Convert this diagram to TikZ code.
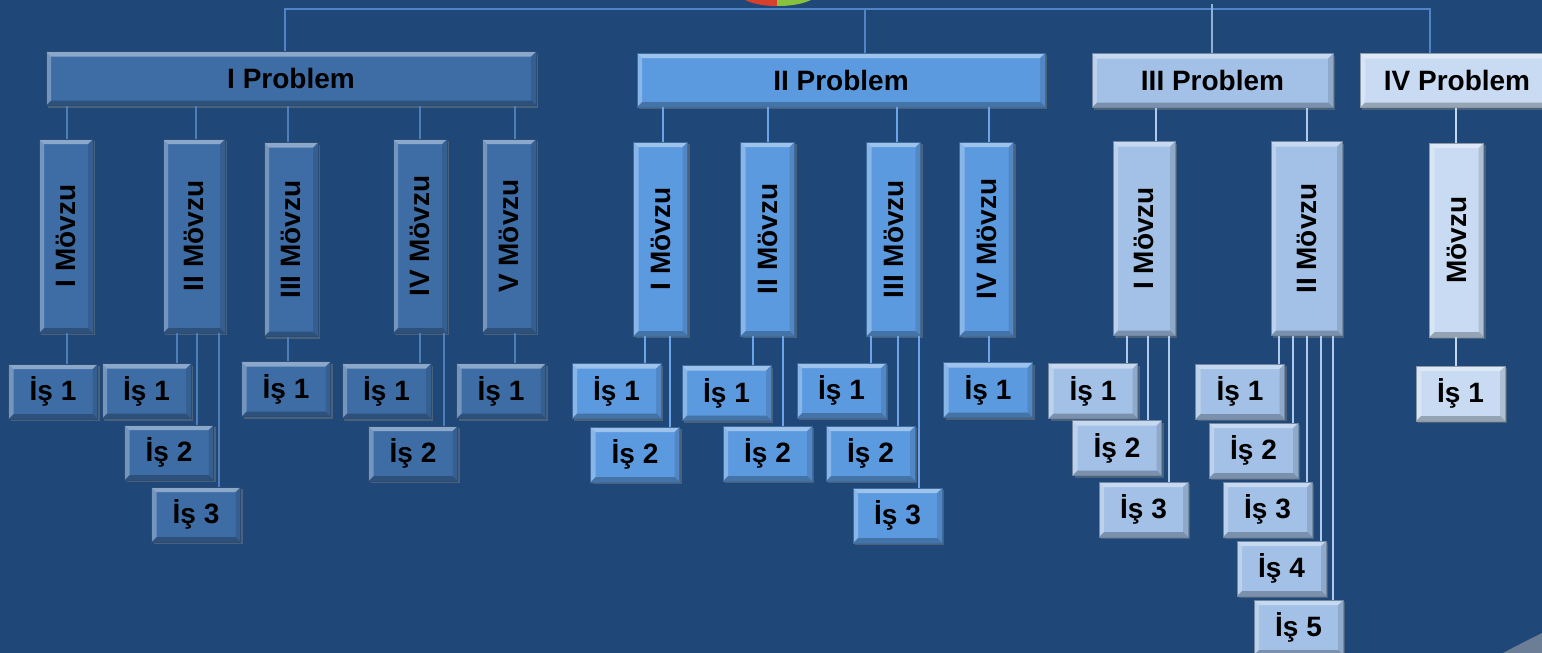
\documentclass[tikz,border=0pt]{standalone}
\usepackage{fontspec}
\setmainfont{Liberation Sans}
\usepackage{graphicx}
\usetikzlibrary{shadows}

\definecolor{slide}{HTML}{1F4878}
\definecolor{grpA}{HTML}{3E6DA6}
\definecolor{grpB}{HTML}{5C9AE0}
\definecolor{grpC}{HTML}{A3C1E6}
\definecolor{grpD}{HTML}{C8DBF2}
\definecolor{lineA}{HTML}{4E7EBA}
\definecolor{lineB}{HTML}{6BA4E8}
\definecolor{lineC}{HTML}{AFCAEC}
\definecolor{lineD}{HTML}{C2D6F0}
\definecolor{busline}{HTML}{4F84C6}
\definecolor{wedgeR}{HTML}{D8402E}
\definecolor{wedgeG}{HTML}{86C23E}
\definecolor{swoosh}{HTML}{6C7D96}

\tikzset{
  bevel/.style={path picture={
    \path (path picture bounding box.north west) coordinate (bnw)
          (path picture bounding box.north east) coordinate (bne)
          (path picture bounding box.south west) coordinate (bsw)
          (path picture bounding box.south east) coordinate (bse)
          (bnw) ++(2.5pt,-2.5pt) coordinate (inw)
          (bne) ++(-2.5pt,-2.5pt) coordinate (ine)
          (bsw) ++(2.5pt,2.5pt) coordinate (isw)
          (bse) ++(-2.5pt,2.5pt) coordinate (ise);
    \fill[white,opacity=.4] (bnw) -- (bne) -- (ine) -- (inw) -- cycle;
    \fill[white,opacity=.28] (bnw) -- (inw) -- (isw) -- (bsw) -- cycle;
    \fill[black,opacity=.25] (bsw) -- (isw) -- (ise) -- (bse) -- cycle;
    \fill[black,opacity=.12] (bne) -- (bse) -- (ise) -- (ine) -- cycle;
  }}
}

\begin{document}
\begin{tikzpicture}[x=0.5pt, y=-0.5pt,
  box/.style={draw=#1!70!black, line width=0.4pt, fill=#1, bevel, inner sep=0pt,
    text=black, font=\fontsize{14}{16}\selectfont\bfseries,
    drop shadow={shadow xshift=1pt, shadow yshift=-1.2pt, opacity=.45}},
  prob/.style={box=#1, minimum height=27pt},
  topic/.style={box=#1, minimum width=27pt, minimum height=97pt},
  task/.style={box=#1, minimum width=44.5pt, minimum height=27.5pt},
  link/.style={draw=#1, line width=1.3pt}]
\fill[slide] (0,0) rectangle (1542,653);
\useasboundingbox (0,0) rectangle (1542,653);

% what shows of the top of the chart and the slide's corner
\fill[wedgeR] (745,0) .. controls (755,5) and (768,6) .. (777,6) -- (777,0) -- cycle;
\fill[wedgeG] (777,0) -- (777,6) .. controls (788,6) and (800,5) .. (811,0) -- cycle;
\fill[swoosh] (1503,653) .. controls (1518,645) and (1530,639) .. (1542,633) -- (1542,653) -- cycle;

% problems
\node[prob=grpA, minimum width=245pt] (p1) at (291,78.5) {I Problem};
\node[prob=grpB, minimum width=204pt] (p2) at (841,80) {II Problem};
\node[prob=grpC, minimum width=120.5pt] (p3) at (1212.5,80.5) {III Problem};
\node[prob=grpD, minimum width=97pt] (p4) at (1457,80.5) {IV Problem};

\coordinate (b1) at (285,9);
\coordinate (b2) at (865,9);
\coordinate (b3) at (1212,4);
\coordinate (b4) at (1430,9);
\draw[link=busline] (b1 |- p1.north) -- (b1) -- (b4) -- (b4 |- p4.north);
\draw[link=busline] (b2) -- (b2 |- p2.north);
\draw[link=lineC!80!slide] (b3) -- (b3 |- p3.north);

% topics
\node[topic=grpA] (m11) at (66,236) {\rotatebox{90}{I Mövzu}};
\node[topic=grpA, minimum width=31pt] (m12) at (194,236) {\rotatebox{90}{II Mövzu}};
\node[topic=grpA] (m13) at (291,239.5) {\rotatebox{90}{III Mövzu}};
\node[topic=grpA] (m14) at (420,236) {\rotatebox{90}{IV Mövzu}};
\node[topic=grpA] (m15) at (509,236) {\rotatebox{90}{V Mövzu}};

\node[topic=grpB] (m21) at (660.5,239) {\rotatebox{90}{I Mövzu}};
\node[topic=grpB] (m22) at (767.5,239) {\rotatebox{90}{II Mövzu}};
\node[topic=grpB] (m23) at (893.5,239) {\rotatebox{90}{III Mövzu}};
\node[topic=grpB] (m24) at (986.5,239) {\rotatebox{90}{IV Mövzu}};

\node[topic=grpC, minimum width=31pt] (m31) at (1144,238.5) {\rotatebox{90}{I Mövzu}};
\node[topic=grpC, minimum width=35.5pt] (m32) at (1306.5,238.5) {\rotatebox{90}{II Mövzu}};

\node[topic=grpD] (m41) at (1456.5,240) {\rotatebox{90}{Mövzu}};

\draw[link=lineA] (p1.south -| 67,0) -- (m11.north -| 67,0);
\draw[link=lineA] (p1.south -| 196,0) -- (m12.north -| 196,0);
\draw[link=lineA] (p1.south -| 288,0) -- (m13.north -| 288,0);
\draw[link=lineA] (p1.south -| 420,0) -- (m14.north -| 420,0);
\draw[link=lineA] (p1.south -| 515,0) -- (m15.north -| 515,0);
\draw[link=lineB] (p2.south -| 663,0) -- (m21.north -| 663,0);
\draw[link=lineB] (p2.south -| 768,0) -- (m22.north -| 768,0);
\draw[link=lineB] (p2.south -| 897,0) -- (m23.north -| 897,0);
\draw[link=lineB] (p2.south -| 989,0) -- (m24.north -| 989,0);
\draw[link=lineC] (p3.south -| 1156,0) -- (m31.north -| 1156,0);
\draw[link=lineC] (p3.south -| 1307,0) -- (m32.north -| 1307,0);
\draw[link=lineD] (p4.south -| 1456,0) -- (m41.north -| 1456,0);

% tasks
\node[task=grpA] (i111) at (53,391.5) {İş 1};
\node[task=grpA] (i121) at (146.5,391) {İş 1};
\node[task=grpA] (i122) at (169,452.5) {İş 2};
\node[task=grpA] (i123) at (196,514.5) {İş 3};
\node[task=grpA] (i131) at (286,389) {İş 1};
\node[task=grpA] (i141) at (386.5,391) {İş 1};
\node[task=grpA] (i142) at (413,453.5) {İş 2};
\node[task=grpA] (i151) at (501,391) {İş 1};

\node[task=grpB] (i211) at (616.5,391) {İş 1};
\node[task=grpB] (i212) at (635,454.5) {İş 2};
\node[task=grpB] (i221) at (726.5,393) {İş 1};
\node[task=grpB] (i222) at (767.5,453.5) {İş 2};
\node[task=grpB] (i231) at (841.5,390.5) {İş 1};
\node[task=grpB] (i232) at (870.5,453.5) {İş 2};
\node[task=grpB] (i233) at (897.5,515.5) {İş 3};
\node[task=grpB] (i241) at (988,390) {İş 1};

\node[task=grpC] (i311) at (1093,391) {İş 1};
\node[task=grpC] (i312) at (1117,448) {İş 2};
\node[task=grpC] (i313) at (1143.5,509.5) {İş 3};
\node[task=grpC] (i321) at (1240,391.5) {İş 1};
\node[task=grpC] (i322) at (1253.5,450.5) {İş 2};
\node[task=grpC] (i323) at (1267.5,509.5) {İş 3};
\node[task=grpC] (i324) at (1281.5,568.5) {İş 4};
\node[task=grpC] (i325) at (1298.5,627.5) {İş 5};

\node[task=grpD] (i411) at (1460.5,393.5) {İş 1};

\draw[link=lineA] (m11.south -| 67,0) -- (i111.north -| 67,0);
\draw[link=lineA] (m12.south -| 177,0) -- (i121.north -| 177,0);
\draw[link=lineA] (m12.south -| 197,0) -- (i122.north -| 197,0);
\draw[link=lineA] (m12.south -| 219,0) -- (i123.north -| 219,0);
\draw[link=lineA] (m13.south -| 288,0) -- (i131.north -| 288,0);
\draw[link=lineA] (m14.south -| 420,0) -- (i141.north -| 420,0);
\draw[link=lineA] (m14.south -| 444,0) -- (i142.north -| 444,0);
\draw[link=lineA] (m15.south -| 515,0) -- (i151.north -| 515,0);

\draw[link=lineB] (m21.south -| 645,0) -- (i211.north -| 645,0);
\draw[link=lineB] (m21.south -| 670,0) -- (i212.north -| 670,0);
\draw[link=lineB] (m22.south -| 753,0) -- (i221.north -| 753,0);
\draw[link=lineB] (m22.south -| 783,0) -- (i222.north -| 783,0);
\draw[link=lineB] (m23.south -| 871,0) -- (i231.north -| 871,0);
\draw[link=lineB] (m23.south -| 898,0) -- (i232.north -| 898,0);
\draw[link=lineB] (m23.south -| 919,0) -- (i233.north -| 919,0);
\draw[link=lineB] (m24.south -| 989,0) -- (i241.north -| 989,0);

\draw[link=lineC] (m31.south -| 1127,0) -- (i311.north -| 1127,0);
\draw[link=lineC] (m31.south -| 1148,0) -- (i312.north -| 1148,0);
\draw[link=lineC] (m31.south -| 1169,0) -- (i313.north -| 1169,0);
\draw[link=lineC] (m32.south -| 1279,0) -- (i321.north -| 1279,0);
\draw[link=lineC] (m32.south -| 1293,0) -- (i322.north -| 1293,0);
\draw[link=lineC] (m32.south -| 1307,0) -- (i323.north -| 1307,0);
\draw[link=lineC] (m32.south -| 1321,0) -- (i324.north -| 1321,0);
\draw[link=lineC] (m32.south -| 1333,0) -- (i325.north -| 1333,0);

\draw[link=lineD] (m41.south -| 1456,0) -- (i411.north -| 1456,0);
\end{tikzpicture}
\end{document}
